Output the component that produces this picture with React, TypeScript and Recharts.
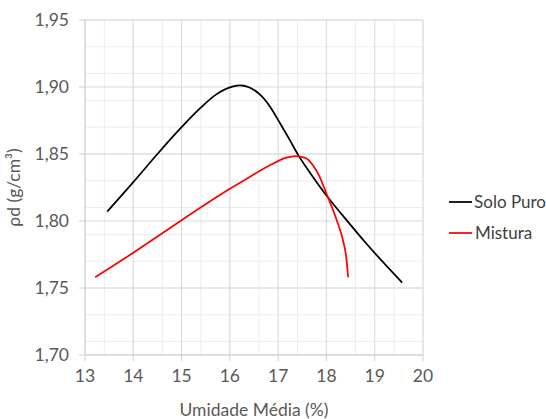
import { LineChart, Line, XAxis, YAxis, CartesianGrid, Legend } from 'recharts';

// umidade (%) / densidade seca (g/cm³)
const soloPuroX = [13.46, 14.0, 14.5, 15.0, 15.38, 15.72, 16.07, 16.21, 16.62, 16.83, 17.03, 17.24, 17.41, 17.66, 18.0, 18.34, 18.83, 19.57];
const soloPuroY = [1.807, 1.829, 1.85, 1.87, 1.884, 1.8945, 1.9004, 1.9012, 1.8945, 1.8855, 1.8735, 1.8605, 1.8495, 1.836, 1.819, 1.804, 1.783, 1.754];

const misturaX = [13.21, 14.03, 15.0, 15.41, 16.0, 16.41, 16.83, 17.17, 17.35, 17.55, 17.72, 17.86, 18.0, 18.21, 18.34, 18.41, 18.45];
const misturaY = [1.758, 1.777, 1.8006, 1.8105, 1.824, 1.8329, 1.8416, 1.8473, 1.8485, 1.8473, 1.8416, 1.833, 1.8205, 1.801, 1.786, 1.773, 1.758];

const xTicks = [13, 14, 15, 16, 17, 18, 19, 20];
const yTicks = [1.7, 1.75, 1.8, 1.85, 1.9, 1.95];

const xMinor = Array.from({ length: 36 }, (_, i) => 13 + i * 0.2);
const yMinor = Array.from({ length: 51 }, (_, i) => 1.7 + i * 0.005);

const soloPuro = soloPuroX.map((x, i) => ({ x, y: soloPuroY[i] }));
const mistura = misturaX.map((x, i) => ({ x, y: misturaY[i] }));

const series = [
  { name: 'Solo Puro', color: '#000000', data: soloPuro },
  { name: 'Mistura', color: '#ff0000', data: mistura },
];

const fmt = (v: number) => v.toFixed(2).replace('.', ',');

function LegendBox() {
  return (
    <div>
      {series.map((s) => (
        <div key={s.name} style={{ display: 'flex', alignItems: 'center', height: 31 }}>
          <svg width={24} height={4} style={{ marginRight: 2 }}>
            <line x1={0} y1={2} x2={23} y2={2} stroke={s.color} strokeWidth={1.75} />
          </svg>
          <span style={{ fontSize: 17, color: '#404040', whiteSpace: 'nowrap' }}>{s.name}</span>
        </div>
      ))}
    </div>
  );
}

export default function App() {
  return (
    <div style={{ position: 'absolute', left: 0, top: 0, fontFamily: 'Lato', background: '#fff' }}>
      <LineChart width={546} height={419} margin={{ top: 20, right: 123, bottom: 0, left: 0 }}>
        <CartesianGrid stroke="#ececec" verticalValues={xMinor} horizontalValues={yMinor} />
        <CartesianGrid stroke="#d9d9d9" verticalValues={xTicks} horizontalValues={yTicks} />
        <XAxis
          type="number"
          dataKey="x"
          domain={[13, 20]}
          ticks={xTicks}
          height={64}
          stroke="#d0d0d0"
          tickSize={6}
          tickMargin={9}
          tick={{ fill: '#595959', fontSize: 17.5 }}
          label={{ value: 'Umidade Média (%)', position: 'insideBottom', offset: 3, fill: '#595959', fontSize: 17.5 }}
        />
        <YAxis
          type="number"
          dataKey="y"
          domain={[1.7, 1.95]}
          ticks={yTicks}
          width={85}
          stroke="#d0d0d0"
          tickSize={6}
          tickMargin={10}
          tickFormatter={fmt}
          tick={{ fill: '#595959', fontSize: 17.5 }}
          label={{ value: 'ρd (g/cm³)', angle: -90, position: 'insideLeft', offset: 14, fill: '#595959', fontSize: 17.5, style: { textAnchor: 'middle' } }}
        />
        <Legend
          layout="vertical"
          align="center"
          verticalAlign="middle"
          wrapperStyle={{ left: 449, top: 186, width: 97 }}
          content={() => <LegendBox />}
        />
        {series.map((s) => (
          <Line
            key={s.name}
            name={s.name}
            data={s.data}
            dataKey="y"
            type="monotone"
            stroke={s.color}
            strokeWidth={1.75}
            dot={false}
            activeDot={false}
            isAnimationActive={false}
          />
        ))}
      </LineChart>
    </div>
  );
}
